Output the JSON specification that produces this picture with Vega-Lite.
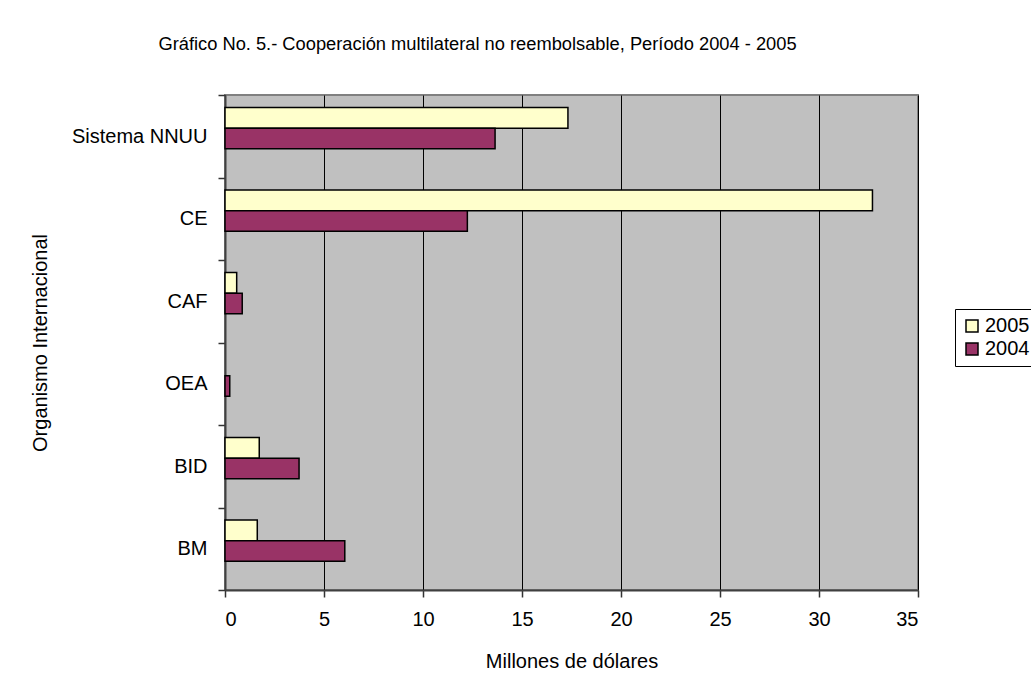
{
  "$schema": "https://vega.github.io/schema/vega-lite/v6.json",
  "width": 693,
  "height": 495,
  "autosize": {"type": "none"},
  "padding": {"left": 225, "top": 95, "right": 113, "bottom": 99},
  "background": "white",
  "title": {
    "text": "Gráfico No. 5.- Cooperación multilateral no reembolsable, Período 2004 - 2005",
    "font": "Liberation Sans",
    "fontSize": 18.3,
    "fontWeight": "normal",
    "color": "black",
    "anchor": "middle",
    "frame": "group",
    "dx": -94,
    "offset": 31
  },
  "data": {
    "values": [
      {"org": "Sistema NNUU", "year": "2005", "value": 17.32},
      {"org": "Sistema NNUU", "year": "2004", "value": 13.64},
      {"org": "CE", "year": "2005", "value": 32.7},
      {"org": "CE", "year": "2004", "value": 12.24},
      {"org": "CAF", "year": "2005", "value": 0.59},
      {"org": "CAF", "year": "2004", "value": 0.87},
      {"org": "OEA", "year": "2004", "value": 0.24},
      {"org": "BID", "year": "2005", "value": 1.73},
      {"org": "BID", "year": "2004", "value": 3.74},
      {"org": "BM", "year": "2005", "value": 1.63},
      {"org": "BM", "year": "2004", "value": 6.05}
    ]
  },
  "mark": {"type": "bar", "stroke": "black", "strokeWidth": 1.5},
  "encoding": {
    "y": {
      "field": "org",
      "type": "nominal",
      "sort": ["Sistema NNUU", "CE", "CAF", "OEA", "BID", "BM"],
      "scale": {"paddingInner": 0, "paddingOuter": 0},
      "axis": {
        "title": "Organismo Internacional",
        "titleFont": "Liberation Sans",
        "titleFontSize": 20,
        "titleFontWeight": "normal",
        "titleColor": "black",
        "titlePadding": 21,
        "labelFont": "Liberation Sans",
        "labelFontSize": 20,
        "labelColor": "black",
        "labelPadding": 11,
        "tickBand": "extent",
        "tickSize": 7,
        "tickColor": "#333333",
        "tickWidth": 1.5,
        "domainColor": "#404040",
        "domainWidth": 2,
        "grid": false
      }
    },
    "yOffset": {
      "field": "year",
      "sort": ["2005", "2004"],
      "scale": {"paddingInner": 0, "paddingOuter": 1.278, "align": 0.304}
    },
    "x": {
      "field": "value",
      "type": "quantitative",
      "scale": {"domain": [0, 35], "nice": false},
      "axis": {
        "title": "Millones de dólares",
        "values": [0, 5, 10, 15, 20, 25, 30, 35],
        "titleFont": "Liberation Sans",
        "titleFontSize": 20,
        "titleFontWeight": "normal",
        "titleColor": "black",
        "titlePadding": 22,
        "labelFont": "Liberation Sans",
        "labelFontSize": 20,
        "labelColor": "black",
        "labelPadding": 12,
        "tickSize": 7,
        "tickColor": "#333333",
        "tickWidth": 1.5,
        "domainColor": "#404040",
        "domainWidth": 2,
        "grid": true,
        "gridColor": "black",
        "gridWidth": 1,
        "gridOpacity": 1
      }
    },
    "color": {
      "field": "year",
      "type": "nominal",
      "scale": {"domain": ["2005", "2004"], "range": ["#FFFFCC", "#993366"]},
      "legend": {
        "title": null,
        "orient": "none",
        "legendX": 730,
        "legendY": 214,
        "symbolType": "square",
        "symbolSize": 144,
        "symbolStrokeColor": "black",
        "symbolStrokeWidth": 1.5,
        "symbolOpacity": 1,
        "labelFont": "Liberation Sans",
        "labelFontSize": 20,
        "labelColor": "black",
        "labelOffset": 3,
        "rowPadding": 3,
        "padding": 7,
        "strokeColor": "black",
        "fillColor": "white"
      }
    }
  },
  "config": {
    "view": {"fill": "#C0C0C0", "stroke": "#808080", "strokeWidth": 2}
  }
}
